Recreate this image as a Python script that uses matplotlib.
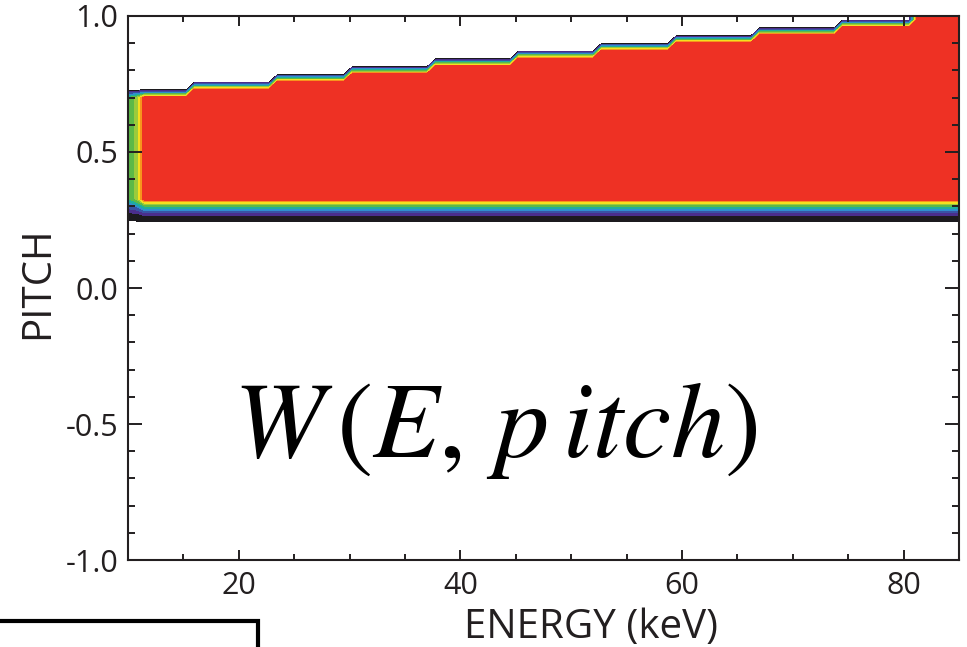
import numpy as np
import matplotlib
matplotlib.use("Agg")
import matplotlib.pyplot as plt
from matplotlib.patches import Rectangle
from matplotlib.ticker import MultipleLocator

plt.rcParams['font.family'] = ['Open Sans', 'DejaVu Sans']
plt.rcParams['mathtext.fontset'] = 'stix'
plt.rcParams['axes.unicode_minus'] = False

# grid of the weight function W(E, pitch)
energy = np.linspace(10, 85, 101)        # keV
pitch = np.linspace(-0.986, 1.014, 71)

# upper pitch edge of the filled region, one level per energy step
step_energy = [10, 15.9, 22.8, 29.8, 37.7, 44.7, 52.5, 59.4, 66.4, 74.4, 81.2]
upper_pitch = [0.700, 0.728, 0.757, 0.785, 0.814, 0.843, 0.871, 0.900, 0.928, 0.957, 1.014]

# lower edge: weight falls off over a few pitch rows
lower_pitch = [0.243, 0.271, 0.300, 0.328]
lower_weight = [0.0, 0.12, 0.5, 1.0]

# the first energy columns are weaker
first_columns = [0.5, 0.62]

xtick_values = [20, 40, 60, 80]
ytick_values = [-1.0, -0.5, 0.0, 0.5, 1.0]
ytick_labels = ['-1.0', '-0.5', '0.0', '0.5', '1.0']

# build the weight grid
W = np.zeros((len(pitch), len(energy)))
for j, e in enumerate(energy):
    seg = np.searchsorted(step_energy, e, side='right') - 1
    col = np.interp(pitch, lower_pitch, lower_weight)
    col[pitch > upper_pitch[seg] + 0.005] = 0.0
    if j < len(first_columns):
        col = col * first_columns[j]
    W[:, j] = col

levels = [0.01, 0.1, 0.2, 0.3, 0.4, 0.5, 0.6, 0.7, 0.8, 0.9, 1.01]
colors = ['#1c1a1e', '#4a2e8c', '#3953a4', '#2f8fce', '#1fae9c',
          '#5cb947', '#9ccb3b', '#f4e01f', '#f7941d', '#ee3124']

fig = plt.figure(figsize=(9.67, 6.47), dpi=100)
ax = fig.add_axes([0.1324, 0.1344, 0.8593, 0.8409])

ax.contourf(energy, pitch, W, levels=levels, colors=colors)

ax.set_xlim(10, 85)
ax.set_ylim(-1.0, 1.0)

ax.set_xticks(xtick_values)
ax.set_yticks(ytick_values)
ax.set_yticklabels(ytick_labels)
ax.xaxis.set_minor_locator(MultipleLocator(5))
ax.yaxis.set_minor_locator(MultipleLocator(0.1))

txt_color = '#231f20'
ax.tick_params(axis='both', which='both', direction='in', top=True, right=True,
               width=1.4, color=txt_color, labelsize=22, labelcolor=txt_color)
ax.tick_params(axis='x', which='major', length=7.5, pad=8)
ax.tick_params(axis='x', which='minor', length=4.5)
ax.tick_params(axis='y', which='major', length=10, pad=7)
ax.tick_params(axis='y', which='minor', length=5)
for sp in ax.spines.values():
    sp.set_linewidth(1.5)
    sp.set_color(txt_color)

ax.set_xlabel('ENERGY (keV)', fontsize=29, color=txt_color)
ax.xaxis.set_label_coords(0.557, -0.087)
ax.set_ylabel('PITCH', fontsize=29, color=txt_color)
ax.yaxis.set_label_coords(-0.084, 0.51)

ax.text(0.4416, 0.241, r'$W\,(E,\,p\,itch)$', transform=ax.transAxes,
        fontsize=78, ha='center', va='center', color='black')

# partial box at the lower left corner
fig.add_artist(Rectangle((-0.01, -0.1), 0.2768, 0.1402, transform=fig.transFigure,
                         fill=False, lw=3, ec='black', clip_on=False))

fig.savefig('out.png', dpi=100)
